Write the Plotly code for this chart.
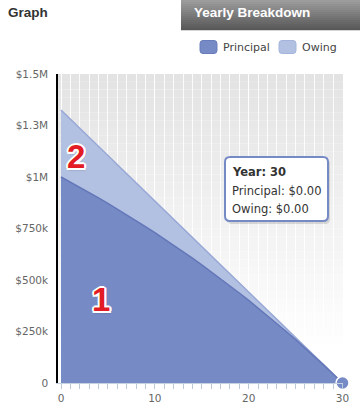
import plotly.graph_objects as go

# ---------------- data ----------------
years = list(range(31))
principal = [1000000, 975400, 950200, 924600, 898500, 871700, 844500, 816700, 788400, 759600,
             730100, 700000, 669500, 638200, 606200, 573700, 540600, 506800, 472300, 437000,
             401200, 364400, 327100, 289000, 250200, 210500, 170100, 128800, 86800, 43900, 0]
owing = [1325000, 1281000, 1237000, 1193000, 1148000, 1104000, 1060000, 1016000, 972000, 928000,
         883000, 839000, 795000, 751000, 707000, 663000, 618000, 574000, 530000, 486000,
         442000, 398000, 353000, 309000, 265000, 221000, 177000, 133000, 88000, 44000, 0]
y_tickvals = [0, 250000, 500000, 750000, 1000000, 1250000, 1500000]
y_ticktext = ["0", "$250k", "$500k", "$750k", "$1M", "$1.3M", "$1.5M"]
x_tickvals = [0, 10, 20, 30]
series_names = ["Principal", "Owing"]

# ---------------- layout helpers ----------------
W, H = 360, 406
L, R, T, B = 58, 17, 74, 23
PW, PH = W - L - R, H - T - B

PRIN = "rgb(118,138,198)"
OWE = "rgb(178,192,226)"


def px(x):
    return (x - L) / PW


def py(y):
    return (H - B - y) / PH


def rrect(x0, y0, x1, y1, r):
    pts = [
        ("M", [(x0 + r, y0)]),
        ("L", [(x1 - r, y0)]),
        ("Q", [(x1, y0), (x1, y0 + r)]),
        ("L", [(x1, y1 - r)]),
        ("Q", [(x1, y1), (x1 - r, y1)]),
        ("L", [(x0 + r, y1)]),
        ("Q", [(x0, y1), (x0, y1 - r)]),
        ("L", [(x0, y0 + r)]),
        ("Q", [(x0, y0), (x0 + r, y0)]),
    ]
    s = ""
    for cmd, ps in pts:
        s += cmd + " " + " ".join(f"{px(a):.5f},{py(b):.5f}" for a, b in ps) + " "
    return s + "Z"


fig = go.Figure()
fig.add_trace(go.Scatter(x=years, y=owing, name=series_names[1], mode="lines", fill="tozeroy",
                         line=dict(color="rgb(152,168,214)", width=1.5), fillcolor=OWE,
                         hoverinfo="skip"))
fig.add_trace(go.Scatter(x=years, y=principal, name=series_names[0], mode="lines", fill="tozeroy",
                         line=dict(color="rgb(100,119,184)", width=1.5), fillcolor=PRIN,
                         hoverinfo="skip"))
fig.add_trace(go.Scatter(x=[years[-1]], y=[principal[-1]], mode="markers", cliponaxis=False,
                         marker=dict(size=13, color=PRIN, line=dict(color="white", width=1.5)),
                         hoverinfo="skip", showlegend=False))

shapes = []
# plot background gradient
N = 40
for i in range(N):
    f0, f1 = i / N, (i + 1) / N
    t = max(0.0, min(1.0, (f1 - 0.12) / 0.88))
    c = int(round(255 - (255 - 227) * t))
    shapes.append(dict(type="rect", xref="paper", yref="paper", x0=0, x1=1, y0=f0, y1=f1,
                       fillcolor=f"rgb({c},{c},{c})", line=dict(width=0), layer="below"))
# header tab gradient
M = 15
for i in range(M):
    y0 = 30 * i / M
    y1 = 30 * (i + 1) / M + 0.3
    t = i / (M - 1)
    c = int(round(156 - (156 - 88) * t))
    shapes.append(dict(type="rect", xref="paper", yref="paper", x0=px(181), x1=px(360),
                       y0=py(y1), y1=py(y0), fillcolor=f"rgb({c},{c},{c + 1})",
                       line=dict(width=0), layer="above"))
# legend squares
shapes.append(dict(type="path", xref="paper", yref="paper", path=rrect(200, 40.5, 217, 53.5, 3),
                   fillcolor=PRIN, line=dict(color="rgb(105,124,188)", width=1)))
shapes.append(dict(type="path", xref="paper", yref="paper", path=rrect(279, 40.5, 296, 53.5, 3),
                   fillcolor=OWE, line=dict(color="rgb(165,180,220)", width=1)))
# tooltip shadow + box
shapes.append(dict(type="path", xref="paper", yref="paper", path=rrect(227, 159, 330, 224, 5),
                   fillcolor="rgba(0,0,0,0.12)", line=dict(width=0), layer="above"))
shapes.append(dict(type="path", xref="paper", yref="paper", path=rrect(225, 157, 328, 221, 5),
                   fillcolor="white", line=dict(color=PRIN, width=2), layer="above"))

red_font = dict(family="Liberation Sans", size=33, color="#e21b24", weight="bold",
                shadow="2px 0 0 #fff, -2px 0 0 #fff, 0 2px 0 #fff, 0 -2px 0 #fff, "
                       "1.5px 1.5px 0 #fff, -1.5px -1.5px 0 #fff, 1.5px -1.5px 0 #fff, "
                       "-1.5px 1.5px 0 #fff, 1px 2px 2px rgba(0,0,0,0.3)")

ann = [
    dict(text="<b>Graph</b>", x=px(6), y=py(12.5), xanchor="left", yanchor="middle",
         font=dict(family="Liberation Sans", size=13.5, color="#333")),
    dict(text="<b>Yearly Breakdown</b>", x=px(191.5), y=py(12.5), xanchor="left", yanchor="middle",
         font=dict(family="Liberation Sans", size=13.5, color="white")),
    dict(text=series_names[0], x=px(221), y=py(47.5), xanchor="left", yanchor="middle",
         font=dict(family="DejaVu Sans", size=11, color="#444")),
    dict(text=series_names[1], x=px(299.5), y=py(47.5), xanchor="left", yanchor="middle",
         font=dict(family="DejaVu Sans", size=11, color="#444")),
    dict(text="1", x=px(100.5), y=py(299.5), xanchor="center", yanchor="middle", font=red_font),
    dict(text="2", x=px(76), y=py(156.5), xanchor="center", yanchor="middle", font=red_font),
    dict(text=f"<b>Year: {years[-1]}</b>", x=px(230), y=py(172), xanchor="left", yanchor="middle",
         font=dict(family="DejaVu Sans", size=11.5, color="#333")),
    dict(text=f"{series_names[0]}: ${principal[-1]:,.2f}", x=px(230), y=py(191), xanchor="left",
         yanchor="middle", font=dict(family="DejaVu Sans", size=11.5, color="#333")),
    dict(text=f"{series_names[1]}: ${owing[-1]:,.2f}", x=px(230), y=py(208.5), xanchor="left",
         yanchor="middle", font=dict(family="DejaVu Sans", size=11.5, color="#333")),
]
for a in ann:
    a.update(xref="paper", yref="paper", showarrow=False)

fig.update_layout(
    width=W, height=H,
    margin=dict(l=L, r=R, t=T, b=B, pad=0, autoexpand=False),
    paper_bgcolor="white", plot_bgcolor="white",
    showlegend=False,
    shapes=shapes, annotations=ann,
    xaxis=dict(range=[-0.32, 30.05], tickvals=x_tickvals, ticks="outside", ticklen=5,
               tickcolor="#b9c9da", tickwidth=1, automargin=False,
               showgrid=True, gridcolor="rgba(255,255,255,0.85)", gridwidth=1,
               minor=dict(dtick=1, tick0=0, ticks="outside", ticklen=5, tickcolor="#b9c9da",
                          showgrid=True, gridcolor="rgba(255,255,255,0.85)", gridwidth=1),
               zeroline=False, showline=True, linecolor="#c4d2e2", linewidth=1,
               tickfont=dict(family="DejaVu Sans", size=10.5, color="#666"), fixedrange=True),
    yaxis=dict(range=[0, 1500000], tickvals=y_tickvals, ticktext=y_ticktext, ticks="",
               automargin=False,
               showgrid=False, zeroline=False, showline=True, linecolor="black", linewidth=1.5,
               ticklabelstandoff=6,
               tickfont=dict(family="DejaVu Sans", size=10.5, color="#666"), fixedrange=True),
)

fig.write_html("out.html", config={"displayModeBar": False},
               post_script="document.body.style.margin='0';document.body.style.padding='0';")
